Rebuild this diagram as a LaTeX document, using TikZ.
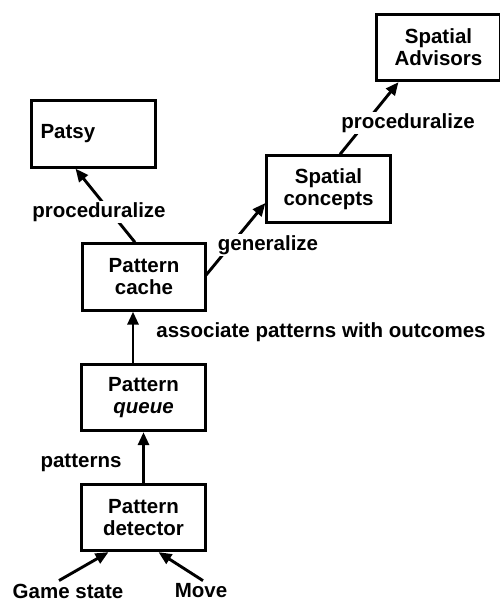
\documentclass[tikz,border=0pt]{standalone}
\usepackage{fontspec}
\setmainfont{Liberation Sans}
\usetikzlibrary{arrows.meta,calc}
\begin{document}
\begin{tikzpicture}[x=1pt,y=-1pt,
  every node/.style={font=\fontsize{20.5}{22}\selectfont\bfseries},
  box/.style={draw, line width=2.8pt, minimum width=123.5pt, minimum height=66.5pt,
    align=center, inner sep=0pt},
  arr/.style={line width=2.9pt, -{Triangle[length=13pt,width=11pt]}},
  lbl/.style={fill=white, inner sep=1pt}]
  \useasboundingbox (0,0) rectangle (500,602);

  % boxes
  \node[box, align=left, text width=106pt] (patsy) at (93.5,134) {Patsy};
  \node[box] (adv)   at (438.5,47.5) {Spatial\\Advisors};
  \node[box] (sc)    at (328.5,189)  {Spatial\\concepts};
  \node[box] (cache) at (144,277)    {Pattern\\cache};
  \node[box] (queue) at (143.5,397.5){Pattern\\\textit{queue}};
  \node[box] (det)   at (143.5,517.5){Pattern\\detector};

  % inputs
  \node[inner sep=1pt] (gs) at (68,591) {Game state};
  \node[inner sep=1pt] (mv) at (201,591) {Move};

  % connectors
  \draw[arr] ($(gs.north)+(-9,-2)$) -- ($(det.south)+(-35,0)$);
  \draw[arr] ($(mv.north)+(2,-2)$) -- ($(det.south)+(15,0)$);
  \draw[arr] (det.north) -- (queue.south);
  \draw[arr] ($(queue.north)+(-10.5,0)$) -- ($(cache.south)+(-11,0)$);
  \draw[arr] ($(cache.north)+(-9,0)$) -- ($(patsy.south)+(-18,0)$);
  \draw[arr] ($(cache.east)+(-1,-2)$) -- ($(sc.west)+(0,14)$);
  \draw[arr] ($(sc.north)+(11.5,0)$) -- ($(adv.south)+(-40,0)$);

  % connector labels
  \node[lbl] (lp1) at (99,212)  {proceduralize};
  \node[lbl] (lg)  at (268,245) {generalize};
  \node[lbl] (lp2) at (408,123) {proceduralize};
  \node      (la)  at (321,332) {associate patterns with outcomes};
  \node      (lpt) at (81,463)  {patterns};
\end{tikzpicture}
\end{document}
